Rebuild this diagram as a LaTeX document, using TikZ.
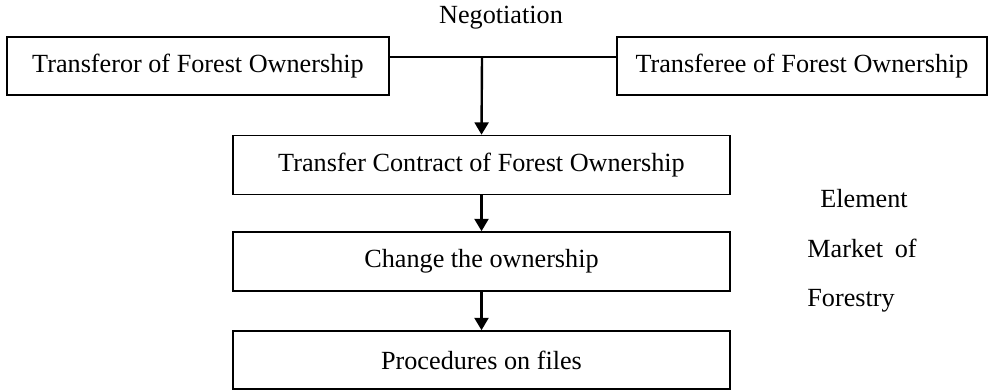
\documentclass[tikz,border=0pt]{standalone}
\usepackage{fontspec}
\setmainfont{Liberation Serif}
\usetikzlibrary{arrows.meta}
\begin{document}
\begin{tikzpicture}[x=0.5pt,y=-0.5pt,
  box/.style={draw, line width=0.8pt, rectangle, inner sep=0pt, font=\fontsize{13.1}{15}\selectfont},
  lbl/.style={inner sep=0pt, font=\fontsize{13.1}{15}\selectfont},
  flow/.style={line width=1.2pt, -{Triangle[width=7pt,length=6.2pt]}},
  link/.style={line width=0.8pt}]
\useasboundingbox (0,0) rectangle (988,390);
% parties
\node[box, minimum width=191pt, minimum height=29pt] (from) at (198,66) {Transferor of Forest Ownership};
\node[box, minimum width=185pt, minimum height=29pt] (to) at (802,66) {Transferee of Forest Ownership};
% chain of steps
\node[box, minimum width=248.5pt, minimum height=29.5pt] (contract) at (481.5,165) {Transfer Contract of Forest Ownership};
\node[box, minimum width=248.5pt, minimum height=29.5pt] (change) at (481.5,261.5) {Change the ownership};
\node[box, minimum width=248.5pt, minimum height=29pt] (files) at (481.5,360) {Procedures on files};
% negotiation link
\coordinate (j) at (482,57);
\draw[link] (from.east |- j) -- (to.west |- j);
\node[lbl] (neg) at (501,18) {Negotiation};
\draw[flow] (j) -- (contract.north);
\draw[flow] (contract.south) -- (change.north);
\draw[flow] (change.south) -- (files.north);
% side label
\node[lbl, anchor=base west] (e1) at (820,207) {Element};
\node[lbl, anchor=base west] (e2) at (807,257) {Market\hspace{0.45em}of};
\node[lbl, anchor=base west] (e3) at (807,306) {Forestry};
\end{tikzpicture}
\end{document}
